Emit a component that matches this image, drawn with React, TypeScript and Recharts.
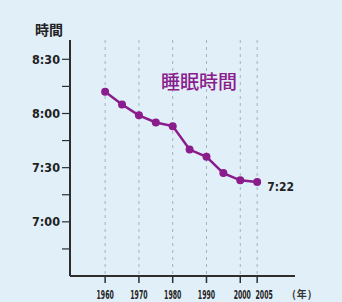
import { LineChart, Line, XAxis, YAxis, CartesianGrid } from "recharts";

// 調査年
const years = [1960, 1965, 1970, 1975, 1980, 1985, 1990, 1995, 2000, 2005];
// 睡眠時間 (分)
const sleepMinutes = [492, 485, 479, 475, 473, 460, 456, 447, 443, 442];
const xTicks = [1960, 1970, 1980, 1990, 2000, 2005];
const yTicks = [405, 420, 435, 450, 465, 480, 495, 510];

const data = years.map((y, i) => ({ year: y, sleep: sleepMinutes[i] }));

const PURPLE = "#8a1c8c";
const AXIS = "#2e2e2e";
const FONT = "'DejaVu Sans Condensed', 'DejaVu Sans', sans-serif";

const fmt = (m: number) =>
  m % 30 === 0 ? `${Math.floor(m / 60)}:${String(m % 60).padStart(2, "0")}` : "";
const fmtAll = (m: number) => `${Math.floor(m / 60)}:${String(m % 60).padStart(2, "0")}`;

// 2000 と 2005 のラベルが重ならないよう少しずらす
const labelShift = (v: number) => (v === 2005 ? 7 : v === 2000 ? 2 : 0);

// 細長い数字 (横方向に圧縮)
function XTick({ x, y, payload }: any) {
  return (
    <g transform={`translate(${x + labelShift(payload.value)},${y + 14}) scale(0.53,1)`}>
      <text x={0} y={0} textAnchor="middle" fontSize={13} fontWeight="bold" fontFamily={FONT} fill="#222">
        {payload.value}
      </text>
    </g>
  );
}

function LastLabel({ x, y, index }: any) {
  if (index !== years.length - 1) return null;
  return (
    <text x={x + 10} y={y + 9} fontSize={12} fontWeight="bold" fontFamily={FONT} fill="#222">
      {fmtAll(sleepMinutes[index])}
    </text>
  );
}

export default function App() {
  return (
    <div style={{ position: "absolute", left: 0, top: 0, width: 342, height: 302, background: "#e1eff9" }}>
      <LineChart width={342} height={302} data={data} margin={{ top: 40, right: 47, left: 0, bottom: 0 }}>
        <CartesianGrid vertical horizontal={false} syncWithTicks stroke="#a9b1b8" strokeDasharray="3 4" />
        <XAxis
          dataKey="year"
          type="number"
          domain={[1949.6, 2016.2]}
          ticks={xTicks}
          interval={0}
          height={26}
          tickSize={7}
          tick={<XTick />}
          axisLine={{ stroke: AXIS, strokeWidth: 2 }}
          tickLine={{ stroke: AXIS, strokeWidth: 1.5 }}
          allowDataOverflow
        />
        <YAxis
          type="number"
          domain={[390, 520.7]}
          ticks={yTicks}
          interval={0}
          width={70}
          tickSize={8}
          tickFormatter={fmt}
          tick={{ fontSize: 12.5, fontWeight: "bold", fontFamily: FONT, fill: "#222" }}
          axisLine={{ stroke: AXIS, strokeWidth: 2 }}
          tickLine={{ stroke: AXIS, strokeWidth: 1.2 }}
          allowDataOverflow
        />
        <Line
          dataKey="sleep"
          stroke={PURPLE}
          strokeWidth={2.5}
          dot={{ r: 4, fill: PURPLE, stroke: PURPLE, strokeWidth: 0 }}
          label={<LastLabel />}
          isAnimationActive={false}
        />
        <text x={35} y={35} fontSize={14} fontWeight="bold" fontFamily="'Noto Sans CJK JP', sans-serif" fill="#222">
          時間
        </text>
        <text x={161} y={89} fontSize={19} fontWeight={500} fontFamily="'Noto Sans CJK JP', sans-serif" fill={PURPLE}>
          睡眠時間
        </text>
        <text x={292} y={298} fontSize={10} fontWeight="bold" fontFamily="'Noto Sans CJK JP', sans-serif" fill="#333" letterSpacing={1}>
          (年)
        </text>
      </LineChart>
    </div>
  );
}
